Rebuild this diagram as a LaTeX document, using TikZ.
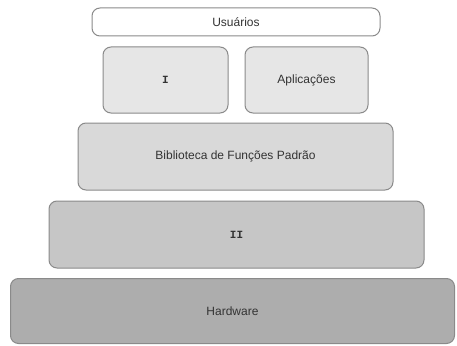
\documentclass[tikz,border=0pt]{standalone}
\usepackage{fontspec}
\setmainfont{Liberation Sans}
\setmonofont{Liberation Mono}
\definecolor{borda}{HTML}{8A8A8A}
\definecolor{nivelA}{HTML}{E6E6E6}
\definecolor{nivelB}{HTML}{D9D9D9}
\definecolor{nivelC}{HTML}{C6C6C6}
\definecolor{nivelD}{HTML}{ADADAD}
\begin{document}
\begin{tikzpicture}[x=1pt,y=-1pt,
	camada/.style={draw=borda,line width=1pt,rounded corners=8pt,inner sep=0pt,
		text=black!80,font=\fontsize{12}{14}\selectfont},
	codigo/.style={font=\ttfamily\bfseries\fontsize{11}{13}\selectfont}]
\useasboundingbox (0,0) rectangle (457,345);
% topo
\node[camada,fill=white,minimum width=288pt,minimum height=28pt]
	(usuarios) at (236,22) {Usuários};
\node[camada,codigo,fill=nivelA,minimum width=125pt,minimum height=66pt]
	(um) at (165.5,80) {I};
\node[camada,fill=nivelA,minimum width=123pt,minimum height=66pt]
	(aplicacoes) at (306.5,80) {Aplicações};
% camadas de baixo
\node[camada,fill=nivelB,minimum width=315pt,minimum height=67pt]
	(biblioteca) at (235.5,156.5) {Biblioteca de Funções Padrão};
\node[camada,codigo,fill=nivelC,minimum width=375pt,minimum height=67pt]
	(dois) at (236.5,234.5) {II};
\node[camada,fill=nivelD,minimum width=444pt,minimum height=65pt]
	(hardware) at (232.5,311) {Hardware};
\end{tikzpicture}
\end{document}
